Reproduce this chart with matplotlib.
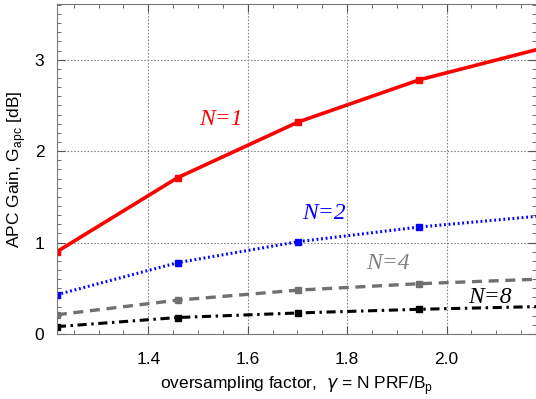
import matplotlib
matplotlib.use("Agg")
import matplotlib.pyplot as plt
from matplotlib.ticker import MultipleLocator

gamma = [1.216, 1.459, 1.702, 1.945, 2.188]
g_n1 = [0.90, 1.71, 2.32, 2.78, 3.12]
g_n2 = [0.43, 0.78, 1.01, 1.17, 1.29]
g_n4 = [0.21, 0.37, 0.48, 0.55, 0.60]
g_n8 = [0.08, 0.18, 0.23, 0.27, 0.30]
x_ticks = [1.4, 1.6, 1.8, 2.0]
y_ticks = [0, 1, 2, 3]

plt.rcParams['font.family'] = ['Liberation Sans', 'DejaVu Sans']
fig = plt.figure(figsize=(5.36, 3.99), dpi=100)
ax = fig.add_axes([0.106, 0.163, 0.894, 0.827])

ax.plot(gamma, g_n1, color='#ff0000', lw=2.6, ls='-', marker='s', ms=5)
ax.plot(gamma, g_n2, color='#0000ff', lw=2.2, ls=(0, (0.6, 0.9)), marker='s', ms=5)
ax.plot(gamma, g_n4, color='#707070', lw=2.4, ls=(0, (3, 2)), marker='s', ms=5)
ax.plot(gamma, g_n8, color='#000000', lw=2.2, ls=(0, (3, 1.5, 0.8, 1.5)), marker='s', ms=5)

lab = dict(family=['Liberation Serif'], style='italic', fontsize=17, ha='center', va='center')
ax.text(1.547, 2.35, 'N=1', color='#ff0000', **lab)
ax.text(1.753, 1.32, 'N=2', color='#0000ff', **lab)
ax.text(1.883, 0.77, 'N=4', color='#808080', **lab)
ax.text(2.087, 0.40, 'N=8', color='#000000', **lab)

ax.set_xlim(1.216, 2.18)
ax.set_ylim(0, 3.61)
ax.set_xticks(x_ticks)
ax.set_xticklabels(['%.1f' % v for v in x_ticks])
ax.set_yticks(y_ticks)
ax.xaxis.set_minor_locator(MultipleLocator(0.05))
ax.yaxis.set_minor_locator(MultipleLocator(0.1))
ax.tick_params(which='both', direction='in', top=True, right=True, labelsize=12.5, color='#555555')
ax.tick_params(axis='x', which='major', length=6, pad=13)
ax.tick_params(axis='y', which='major', length=6, pad=9)
ax.tick_params(which='minor', length=3)
ax.grid(True, which='major', ls=(0, (1.5, 1.5)), color='#888888', lw=0.8)
for s in ax.spines.values():
    s.set_color('#777777')
    s.set_linewidth(0.8)

ax.set_ylabel('APC Gain, G$_{\\mathregular{apc}}$ [dB]', fontsize=12.5, labelpad=5)
ax.set_xlabel('oversampling factor,  $\\gamma$ = N PRF/B$_{\\mathregular{p}}$', fontsize=12.5, labelpad=5)

fig.savefig('out.png', dpi=100)
